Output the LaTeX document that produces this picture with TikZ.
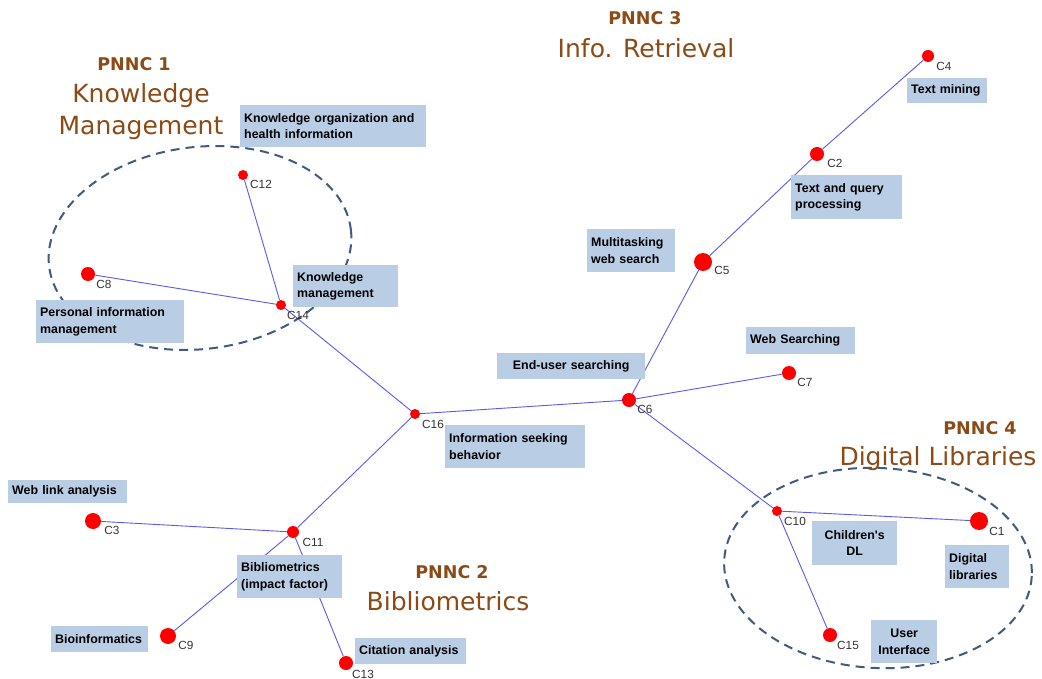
\documentclass[tikz,border=0pt]{standalone}
\usepackage{fontspec}
\setmainfont{Liberation Sans}
\newfontfamily\lblfont{Liberation Sans}
\newfontfamily\ttlfont{DejaVu Sans}
\definecolor{boxblue}{HTML}{B9CDE5}
\definecolor{edgeblue}{HTML}{5A5AEE}
\definecolor{ttlbrown}{HTML}{8C4A16}
\definecolor{ellcol}{HTML}{3F5C7E}
\definecolor{idgray}{HTML}{333333}
\begin{document}
\begin{tikzpicture}[x=1pt,y=-1pt,
  cnode/.style={circle,fill=red,draw=none,inner sep=0pt,minimum size=#1},
  idlbl/.style={anchor=center,inner sep=0pt,text=idgray,font=\lblfont\fontsize{11.8}{13}\selectfont},
  lbox/.style={fill=boxblue,inner xsep=4pt,inner ysep=0pt,anchor=north west,
     font=\lblfont\bfseries\fontsize{12.4}{16.5}\selectfont,align=left},
  edge/.style={draw=edgeblue,line width=0.9pt},
  grp/.style={draw=ellcol,line width=2pt,dash pattern=on 9pt off 6pt},
  pnnc/.style={text=ttlbrown,inner sep=0pt,font=\ttlfont\bfseries\fontsize{17.5}{20}\selectfont},
  ttl/.style={text=ttlbrown,inner sep=0pt,font=\ttlfont\fontsize{25}{32}\selectfont,align=center}
]
\useasboundingbox (0,0) rectangle (1042,679);
\fill[white] (0,0) rectangle (1042,679);

% group ellipses
\draw[grp,rotate around={7:(200,248)}] (200,248) ellipse[x radius=152, y radius=101];
\draw[grp,rotate around={-3:(878,568)}] (878,568) ellipse[x radius=154, y radius=100];

% cluster nodes
\node[cnode=12pt] (c4) at (928,56) {};
\node[cnode=14pt] (c2) at (817,154) {};
\node[cnode=18pt] (c5) at (703,262) {};
\node[cnode=14pt] (c6) at (629,400) {};
\node[cnode=14pt] (c7) at (789,373) {};
\node[cnode=10pt] (c16) at (415,414) {};
\node[cnode=10pt] (c14) at (281,305) {};
\node[cnode=10pt] (c12) at (243,175) {};
\node[cnode=14pt] (c8) at (88,274) {};
\node[cnode=12pt] (c11) at (293,532) {};
\node[cnode=16pt] (c3) at (93,521) {};
\node[cnode=16pt] (c9) at (168,636) {};
\node[cnode=14pt] (c13) at (346,663) {};
\node[cnode=10pt] (c10) at (777,511) {};
\node[cnode=18pt] (c1) at (979,521) {};
\node[cnode=14pt] (c15) at (830,635) {};

% edges
\draw[edge] (c4) -- (c2);
\draw[edge] (c2) -- (c5);
\draw[edge] (c5) -- (c6);
\draw[edge] (c6) -- (c7);
\draw[edge] (c6) -- (c16);
\draw[edge] (c6) -- (c10);
\draw[edge] (c10) -- (c1);
\draw[edge] (c10) -- (c15);
\draw[edge] (c16) -- (c14);
\draw[edge] (c14) -- (c12);
\draw[edge] (c14) -- (c8);
\draw[edge] (c16) -- (c11);
\draw[edge] (c11) -- (c3);
\draw[edge] (c11) -- (c9);
\draw[edge] (c11) -- (c13);

% topic boxes
\node[lbox,text width=72pt,minimum height=25pt] (b4) at (907,78) {Text mining};
\node[lbox,text width=103pt,minimum height=44pt] (b2) at (791,175) {Text and query\\processing};
\node[lbox,text width=80pt,minimum height=43pt] (b5) at (587,229) {Multitasking\\web search};
\node[lbox,text width=101pt,minimum height=27pt] (b7) at (746,327) {Web Searching};
\node[lbox,text width=140pt,minimum height=26pt,align=center] (b6) at (497,353) {End-user searching};
\node[lbox,text width=132pt,minimum height=43pt] (b16) at (445,425) {Information seeking\\behavior};
\node[lbox,text width=178pt,minimum height=42pt] (b12) at (240,105) {Knowledge organization and\\health information};
\node[lbox,text width=97pt,minimum height=42pt] (b14) at (293,265) {Knowledge\\management};
\node[lbox,text width=140pt,minimum height=43pt] (b8) at (36,300) {Personal information\\management};
\node[lbox,text width=111pt,minimum height=23pt] (b3) at (8,480) {Web link analysis};
\node[lbox,text width=97pt,minimum height=43pt] (b11) at (237,555) {Bibliometrics\\(impact factor)};
\node[lbox,text width=89pt,minimum height=26pt] (b9) at (51,626) {Bioinformatics};
\node[lbox,text width=103pt,minimum height=26pt] (b13) at (355,638) {Citation analysis};
\node[lbox,text width=77pt,minimum height=44pt,align=center] (b10) at (812,521) {Children's\\DL};
\node[lbox,text width=56pt,minimum height=43pt] (b1) at (945,545) {Digital\\libraries};
\node[lbox,text width=58pt,minimum height=43pt,align=center] (b15) at (871,620) {User\\Interface};

% id labels
\node[idlbl] (l4) at (944,66) {C4};
\node[idlbl] (l2) at (835,163) {C2};
\node[idlbl] (l5) at (722,270) {C5};
\node[idlbl] (l6) at (645,409) {C6};
\node[idlbl] (l7) at (805,382) {C7};
\node[idlbl] (l16) at (433,424) {C16};
\node[idlbl] (l14) at (298,315) {C14};
\node[idlbl] (l12) at (261,184) {C12};
\node[idlbl] (l8) at (104,284) {C8};
\node[idlbl] (l11) at (313,542) {C11};
\node[idlbl] (l3) at (112,530) {C3};
\node[idlbl] (l9) at (186,645) {C9};
\node[idlbl] (l13) at (363,674) {C13};
\node[idlbl] (l10) at (795,521) {C10};
\node[idlbl] (l1) at (997,531) {C1};
\node[idlbl] (l15) at (848,645) {C15};

% group titles
\node[pnnc] (p1) at (134,64) {PNNC 1};
\node[ttl] (t1) at (141,112) {Knowledge\\Management};
\node[pnnc] (p3) at (645,18) {PNNC 3};
\node[ttl] (t3) at (646,48) {Info. Retrieval};
\node[pnnc] (p4) at (980,428) {PNNC 4};
\node[ttl] (t4) at (938,459) {Digital Libraries};
\node[pnnc] (p2) at (452,572) {PNNC 2};
\node[ttl] (t2) at (448,601) {Bibliometrics};
\end{tikzpicture}
\end{document}
